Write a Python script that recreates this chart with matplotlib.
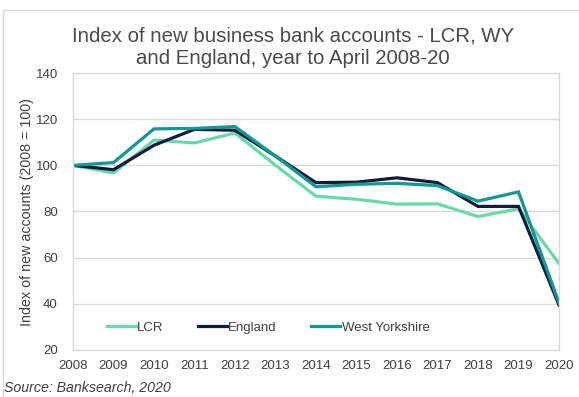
import matplotlib.pyplot as plt
from matplotlib.patches import Rectangle

plt.rcParams['font.family'] = ['Liberation Sans', 'DejaVu Sans']

years = list(range(2008, 2021))
lcr = [100, 96.7, 110.9, 109.7, 114, 100, 86.6, 85.3, 83.2, 83.3, 77.8, 81.2, 57.5]
england = [100, 98.1, 108.7, 115.6, 115.2, 104, 92.5, 92.7, 94.6, 92.5, 82.2, 82.2, 39.5]
west_yorkshire = [100, 101.2, 115.8, 116, 116.8, 104, 90.7, 91.8, 92.2, 91.2, 84.5, 88.5, 40.5]

series_names = ['LCR', 'England', 'West Yorkshire']
series_colors = ['#6ad8ab', '#151c3b', '#0f9a8f']

text_color = '#404040'
grid_color = '#d9d9d9'

fig = plt.figure(figsize=(5.79, 3.97), dpi=100)
W, H = 579, 397
ax = fig.add_axes([73 / W, 1 - 350 / H, (559 - 73) / W, (350 - 73) / H])

for vals, name, col in zip([lcr, england, west_yorkshire], series_names, series_colors):
    ax.plot(years, vals, color=col, lw=2.3, label=name, solid_joinstyle='miter')

ax.set_xlim(2008, 2020)
ax.set_ylim(20, 140)
ax.set_xticks(years)
ax.set_yticks(range(20, 141, 20))
ax.grid(axis='y', color=grid_color, lw=1)
ax.set_axisbelow(True)
for s in ax.spines.values():
    s.set_color(grid_color)
    s.set_linewidth(1)
ax.tick_params(length=0, labelsize=9.5, labelcolor=text_color)
ax.tick_params(axis='y', pad=11)
ax.tick_params(axis='x', pad=7)

ax.set_ylabel('Index of new accounts (2008 = 100)', fontsize=10.3, color=text_color, labelpad=1)

fig.text(293 / W, 1 - 47 / H,
         'Index of new business bank accounts - LCR, WY\nand England, year to April 2008-20',
         fontsize=14.7, color='#4a4a4a', ha='center', va='center', linespacing=1.25)

ax.legend(loc='lower left', bbox_to_anchor=(0.045, 0.015), ncol=3, frameon=False,
          fontsize=9.5, handlelength=2.2, handletextpad=0.1, columnspacing=2.6,
          labelcolor=text_color)

fig.text(4 / W, 1 - 388 / H, 'Source: Banksearch, 2020', fontsize=10.2, style='italic',
         color=text_color, va='center', ha='left')

# outer frame round the chart
fig.patches.append(Rectangle((3 / W, -0.05), 1.0, 1 - 10 / H + 0.05, transform=fig.transFigure,
                             fill=False, edgecolor='#d9d9d9', lw=1))

fig.savefig('out.png', dpi=100)
